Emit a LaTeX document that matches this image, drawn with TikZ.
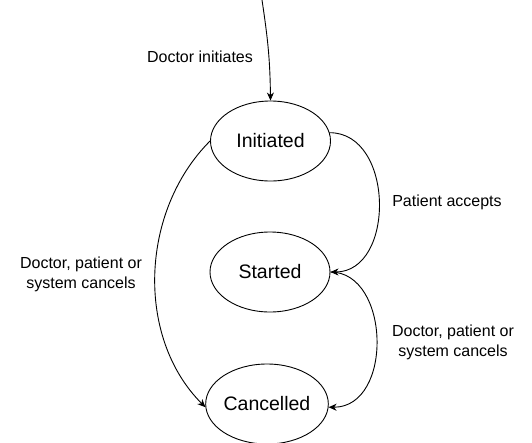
\documentclass[tikz,border=0pt]{standalone}
\usepackage{fontspec}
\setmainfont{Liberation Sans}
\usepackage{tikz}
\usetikzlibrary{arrows.meta,shapes}
\tikzset{state/.style={ellipse,draw,line width=0.9pt,minimum width=120pt,minimum height=80pt,inner sep=0pt,font=\fontsize{19.5}{23}\selectfont},
lbl/.style={align=center,font=\fontsize{16}{20}\selectfont},
trans/.style={line width=0.9pt,-{Stealth[length=8pt,width=7pt,inset=2.5pt]}}}

\begin{document}
\begin{tikzpicture}[x=1pt,y=-1pt]
\useasboundingbox[fill=white] (0,0) rectangle (532,442);
\node[state] (init) at (270.5,141) {Initiated};
\node[state] (started) at (270,272) {Started};
\node[state] (cancel) at (267,404) {Cancelled};
\coordinate (src) at (262,0); % edge comes in from above
\node[lbl] (lblinit) at (200,57) {Doctor initiates};
\node[lbl] (lblaccept) at (447,202) {Patient accepts};
\node[lbl] (lblcancelL) at (81,274) {Doctor, patient or\\system cancels};
\node[lbl] (lblcancelR) at (453,342) {Doctor, patient or\\system cancels};
% transitions
\draw[trans] (src) .. controls (268,40) and (270,60) .. (init.north);
\draw[trans] (init.8) .. controls +(65,0) and +(65,0) .. (started.east);
\draw[trans] (started.east) .. controls +(60,0) and +(65,0) .. (cancel.-3);
\draw[trans] (init.west) .. controls +(-70,70) and +(-70,-70) .. (cancel.-177);
\end{tikzpicture}
\end{document}
